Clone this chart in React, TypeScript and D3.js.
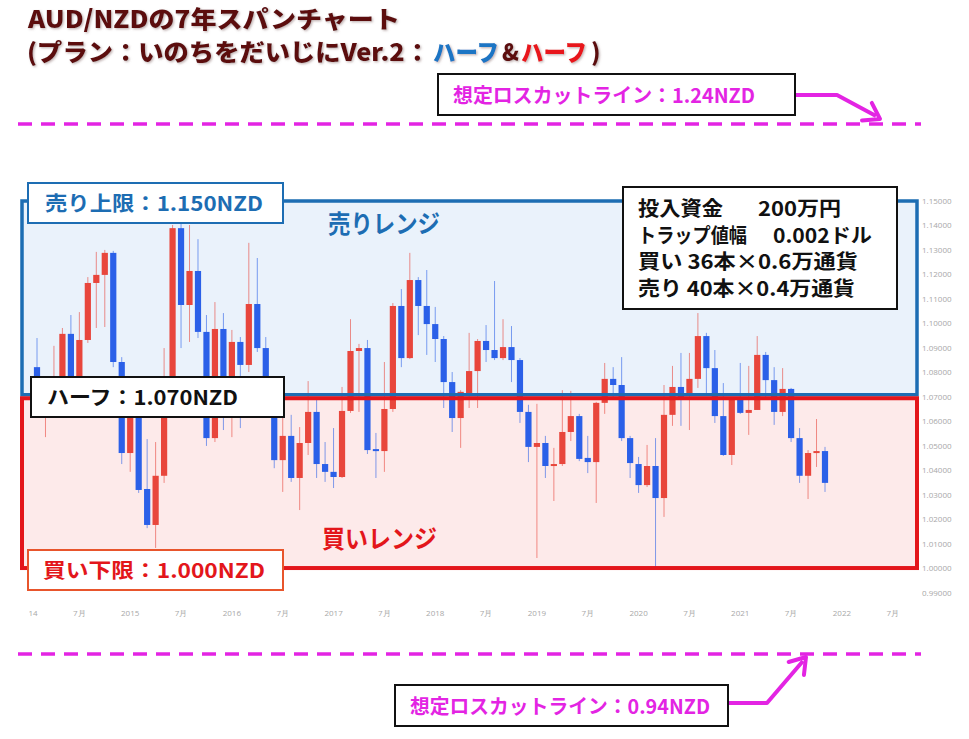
import React from 'react';
import * as d3 from 'd3';

const W = 969;
const H = 739;

// Monthly candles, Feb 2014 .. Nov 2021
const firstMonth = '2014-02';
const open = [
  1.0821, 1.0667, 1.0687, 1.0720, 1.0957, 1.0768, 1.0932, 1.1165, 1.1198, 1.1288,
  1.0842, 1.0470, 1.0667, 1.0323, 1.0176, 1.0377, 1.0687, 1.1389, 1.1075, 1.1214,
  1.0965, 1.0531, 1.0977, 1.0646, 1.0924, 1.0830, 1.1079, 1.0899, 1.0646, 1.0441,
  1.0540, 1.0368, 1.0511, 1.0638, 1.0425, 1.0393, 1.0372, 1.0642, 1.0887, 1.0899,
  1.0486, 1.0478, 1.0650, 1.1071, 1.0858, 1.1177, 1.1071, 1.0997, 1.0936, 1.0760,
  1.0613, 1.0715, 1.0805, 1.0928, 1.0891, 1.0858, 1.0903, 1.0850, 1.0638, 1.0495,
  1.0511, 1.0417, 1.0425, 1.0556, 1.0621, 1.0450, 1.0433, 1.0675, 1.0773, 1.0748,
  1.0531, 1.0425, 1.0339, 1.0417, 1.0286, 1.0626, 1.0740, 1.0715, 1.0773, 1.0948,
  1.0817, 1.0621, 1.0462, 1.0687, 1.0634, 1.0646, 1.0871, 1.0768, 1.0638, 1.0732,
  1.0531, 1.0377, 1.0470, 1.0478,
];
const high = [
  1.0940, 1.0760, 1.0908, 1.0981, 1.1034, 1.1046, 1.1189, 1.1292, 1.1300, 1.1296,
  1.0862, 1.0687, 1.0687, 1.0527, 1.0515, 1.0899, 1.1402, 1.1410, 1.1402, 1.1344,
  1.1034, 1.1087, 1.1042, 1.0973, 1.0944, 1.1329, 1.1267, 1.0944, 1.0687, 1.0654,
  1.0626, 1.0576, 1.0764, 1.0687, 1.0515, 1.0572, 1.0740, 1.1017, 1.0916, 1.0932,
  1.0552, 1.0842, 1.1083, 1.1140, 1.1288, 1.1189, 1.1218, 1.1067, 1.0948, 1.0801,
  1.0727, 1.0961, 1.0936, 1.0993, 1.1173, 1.1017, 1.0989, 1.0858, 1.0667, 1.0671,
  1.0540, 1.0491, 1.0727, 1.0724, 1.0630, 1.0540, 1.0679, 1.0838, 1.0821, 1.0862,
  1.0540, 1.0454, 1.0503, 1.0531, 1.0748, 1.0826, 1.0879, 1.0879, 1.1042, 1.0961,
  1.0891, 1.0756, 1.0699, 1.0838, 1.0826, 1.0948, 1.0883, 1.0821, 1.0817, 1.0736,
  1.0572, 1.0482, 1.0609, 1.0495,
];
const low = [
  1.0744, 1.0535, 1.0646, 1.0695, 1.0744, 1.0727, 1.0920, 1.0981, 1.0985, 1.0821,
  1.0425, 1.0393, 1.0307, 1.0163, 1.0082, 1.0348, 1.0667, 1.0899, 1.0924, 1.0940,
  1.0499, 1.0515, 1.0564, 1.0535, 1.0572, 1.0801, 1.0883, 1.0626, 1.0408, 1.0311,
  1.0352, 1.0237, 1.0462, 1.0368, 1.0352, 1.0327, 1.0368, 1.0634, 1.0638, 1.0466,
  1.0368, 1.0393, 1.0638, 1.0821, 1.0854, 1.0952, 1.0871, 1.0842, 1.0654, 1.0556,
  1.0491, 1.0654, 1.0654, 1.0842, 1.0850, 1.0850, 1.0760, 1.0593, 1.0433, 1.0041,
  1.0368, 1.0274, 1.0417, 1.0519, 1.0437, 1.0388, 1.0266, 1.0630, 1.0699, 1.0519,
  1.0368, 1.0307, 1.0331, 1.0004, 1.0209, 1.0581, 1.0581, 1.0564, 1.0736, 1.0707,
  1.0593, 1.0458, 1.0421, 1.0630, 1.0544, 1.0646, 1.0699, 1.0585, 1.0621, 1.0515,
  1.0348, 1.0282, 1.0413, 1.0311,
];
const close = [
  1.0760, 1.0727, 1.0748, 1.0957, 1.0768, 1.0932, 1.1165, 1.1198, 1.1288, 1.0842,
  1.0470, 1.0667, 1.0319, 1.0176, 1.0377, 1.0687, 1.1389, 1.1075, 1.1214, 1.0965,
  1.0531, 1.0977, 1.0654, 1.0924, 1.0830, 1.1079, 1.0899, 1.0646, 1.0441, 1.0540,
  1.0368, 1.0511, 1.0638, 1.0425, 1.0393, 1.0372, 1.0642, 1.0887, 1.0899, 1.0482,
  1.0478, 1.0650, 1.1071, 1.0858, 1.1177, 1.1071, 1.0997, 1.0936, 1.0760, 1.0613,
  1.0720, 1.0805, 1.0928, 1.0891, 1.0858, 1.0903, 1.0850, 1.0638, 1.0495, 1.0511,
  1.0417, 1.0425, 1.0556, 1.0621, 1.0446, 1.0433, 1.0675, 1.0773, 1.0748, 1.0531,
  1.0429, 1.0339, 1.0417, 1.0286, 1.0626, 1.0740, 1.0695, 1.0773, 1.0948, 1.0817,
  1.0621, 1.0462, 1.0687, 1.0634, 1.0646, 1.0871, 1.0768, 1.0638, 1.0732, 1.0531,
  1.0377, 1.0470, 1.0478, 1.0348,
];

const xTickMonths = [
  '2014-01', '2014-07', '2015-01', '2015-07', '2016-01', '2016-07', '2017-01', '2017-07', '2018-01',
  '2018-07', '2019-01', '2019-07', '2020-01', '2020-07', '2021-01', '2021-07', '2022-01', '2022-07',
];
const xTickLabels = [
  '2014', '7月', '2015', '7月', '2016', '7月', '2017', '7月', '2018',
  '7月', '2019', '7月', '2020', '7月', '2021', '7月', '2022', '7月',
];
const yTicks = [1.15, 1.14, 1.13, 1.12, 1.11, 1.10, 1.09, 1.08, 1.07, 1.06, 1.05, 1.04, 1.03, 1.02, 1.01, 1.0, 0.99];

const sellTop = 1.15;
const halfLevel = 1.07;
const buyBottom = 1.0;

const titleLine1 = 'AUD/NZDの7年スパンチャート';
const titleLine2Parts = ['(プラン：いのちをだいじにVer.2：', 'ハーフ', '&', 'ハーフ', ')'];

const infoLines = [
  ['投入資金', '200万円'],
  ['トラップ値幅', '0.002ドル'],
  ['買い 36本×0.6万通貨', ''],
  ['売り 40本×0.4万通貨', ''],
];
const infoWidths = [[85, 83], [109, 99], [220, 0], [217, 0]];

const JP = '"Noto Sans CJK JP", "Noto Sans", sans-serif';
const RED = '#e8463c';
const BLUE = '#2b60e8';
const MAGENTA = '#e324e3';
const SELL_BLUE = '#1d6db3';
const BUY_RED = '#e3161b';
const TITLE = '#5c0d10';

const monthIndex = (ym: string) => {
  const [a, b] = firstMonth.split('-').map(Number);
  const [y, m] = ym.split('-').map(Number);
  return (y - a) * 12 + (m - b);
};

function arrowHead(tip: [number, number], from: [number, number], len: number, half: number) {
  const dx = tip[0] - from[0];
  const dy = tip[1] - from[1];
  const L = Math.hypot(dx, dy);
  const ux = dx / L, uy = dy / L;
  const px = -uy, py = ux;
  const bx = tip[0] - ux * len, by = tip[1] - uy * len;
  return `M${bx + px * half},${by + py * half} L${tip[0]},${tip[1]} L${bx - px * half},${by - py * half}`;
}

export default function App() {
  const n = open.length;
  const x = d3.scaleLinear().domain([0, n - 1]).range([37, 825]);
  const y = d3.scaleLinear().domain([0.99, 1.15]).range([592.5, 201]);
  const fmt = d3.format('.5f');
  const bodyW = 6.2;

  const candles = d3.range(n).map((i) => ({ i, o: open[i], h: high[i], l: low[i], c: close[i] }));

  const yS = y(sellTop);
  const yH = y(halfLevel);
  const yB = y(buyBottom);

  const topArrowPts: [number, number][] = [[796, 95], [837, 95], [876, 116]];
  const botArrowPts: [number, number][] = [[729, 703], [767, 703], [803, 661]];

  // title line 2 segment layout: [x, width, colour]
  const seg: [number, number | null, string][] = [
    [27, 403, TITLE],
    [433, 66, '#1c75c4'],
    [502, 17, TITLE],
    [521, 66, '#e8161a'],
    [591, null, TITLE],
  ];

  return (
    <svg width={W} height={H} style={{ position: 'absolute', left: 0, top: 0, background: '#fff' }} fontFamily={JP}>
      <defs>
        <clipPath id="xclip">
          <rect x={29} y={595} width={900} height={30} />
        </clipPath>
        <filter id="tshadow" x="-5%" y="-20%" width="110%" height="150%">
          <feDropShadow dx={1.2} dy={1.2} stdDeviation={0.8} floodColor="#8a7070" floodOpacity={0.55} />
        </filter>
      </defs>
      <rect x={0} y={0} width={W} height={H} fill="#fff" />

      {/* Title */}
      <g fontWeight={900} fontSize={24} filter="url(#tshadow)">
        <text x={28} y={28} fill={TITLE} textLength={372} lengthAdjust="spacingAndGlyphs">{titleLine1}</text>
        {titleLine2Parts.map((t, k) => (
          <text
            key={k}
            x={seg[k][0]}
            y={61}
            fill={seg[k][2]}
            {...(seg[k][1] ? { textLength: seg[k][1] as number, lengthAdjust: 'spacingAndGlyphs' } : {})}
          >
            {t}
          </text>
        ))}
      </g>

      {/* range areas */}
      <rect x={22} y={yS} width={895} height={yH - 2 - yS} fill="#eaf2fb" />
      <rect x={22} y={yH + 1.5} width={895} height={yB - yH - 1.5} fill="#fdeaea" />

      {/* y axis labels */}
      <g fontFamily='"Open Sans", sans-serif' fontSize={8} fill="#a8a8a8">
        {yTicks.map((t) => (
          <text key={t} x={922} y={y(t) + 3}>{fmt(t)}</text>
        ))}
      </g>

      {/* x axis labels */}
      <g fontFamily='"Open Sans", sans-serif' fontSize={8} fill="#a8a8a8" textAnchor="middle" clipPath="url(#xclip)">
        {xTickMonths.map((m, k) => (
          <text key={m} x={x(monthIndex(m))} y={616}>{xTickLabels[k]}</text>
        ))}
      </g>

      {/* candles */}
      <g>
        {candles.map((d) => {
          const up = d.c >= d.o;
          const col = up ? RED : BLUE;
          const cx = x(d.i);
          const top = y(Math.max(d.o, d.c));
          const bot = y(Math.min(d.o, d.c));
          const h = Math.max(2, bot - top);
          return (
            <g key={d.i}>
              <line x1={cx} x2={cx} y1={y(d.h)} y2={y(d.l)} stroke={col} strokeOpacity={0.6} strokeWidth={1} />
              <rect x={cx - bodyW / 2} y={top} width={bodyW} height={h} fill={col} />
            </g>
          );
        })}
      </g>

      {/* range borders */}
      <rect x={22} y={yS} width={895} height={yH - 2 - yS} fill="none" stroke={SELL_BLUE} strokeWidth={3.5} />
      <rect x={22} y={yH + 1.5} width={895} height={yB - yH - 1.5} fill="none" stroke={BUY_RED} strokeWidth={4} />

      {/* range titles */}
      <text x={328} y={233} fontSize={25} fontWeight={700} fill={SELL_BLUE} textLength={112} lengthAdjust="spacingAndGlyphs">売りレンジ</text>
      <text x={322} y={548} fontSize={25} fontWeight={700} fill={BUY_RED} textLength={115} lengthAdjust="spacingAndGlyphs">買いレンジ</text>

      {/* level labels */}
      <rect x={28} y={183} width={255} height={40} fill="#fff" stroke={SELL_BLUE} strokeWidth={2} />
      <text x={45} y={211} fontSize={20} fontWeight={700} fill={SELL_BLUE} textLength={218} lengthAdjust="spacingAndGlyphs">売り上限：1.150NZD</text>

      <rect x={31} y={377} width={253} height={40} fill="#fff" stroke="#111" strokeWidth={2} />
      <text x={47} y={405} fontSize={20} fontWeight={700} fill="#111" textLength={191} lengthAdjust="spacingAndGlyphs">ハーフ：1.070NZD</text>

      <rect x={28} y={550} width={255} height={40} fill="#fff" stroke="#e8552c" strokeWidth={2} />
      <text x={43} y={578} fontSize={20} fontWeight={700} fill={BUY_RED} textLength={222} lengthAdjust="spacingAndGlyphs">買い下限：1.000NZD</text>

      {/* info box */}
      <rect x={623} y={187} width={274} height={122} fill="#fff" stroke="#111" strokeWidth={2} />
      <g fontSize={20} fontWeight={700} fill="#111">
        {infoLines.map((ln, k) => (
          <g key={k}>
            <text x={638} y={216 + k * 26.5} textLength={infoWidths[k][0]} lengthAdjust="spacingAndGlyphs">{ln[0]}</text>
            {ln[1] && (
              <text x={k === 0 ? 758 : 773} y={216 + k * 26.5} textLength={infoWidths[k][1]} lengthAdjust="spacingAndGlyphs">{ln[1]}</text>
            )}
          </g>
        ))}
      </g>

      {/* loss cut lines */}
      <line x1={18} x2={921} y1={124} y2={124} stroke={MAGENTA} strokeWidth={3.5} strokeDasharray="14 9" />
      <line x1={18} x2={921} y1={654} y2={654} stroke={MAGENTA} strokeWidth={3.5} strokeDasharray="14 9" />

      <rect x={438} y={74} width={357} height={41} fill="#fff" stroke="#111" strokeWidth={2} />
      <text x={453} y={103} fontSize={20} fontWeight={700} fill={MAGENTA} textLength={302} lengthAdjust="spacingAndGlyphs">想定ロスカットライン：1.24NZD</text>
      <path d={`M${topArrowPts.map((p) => p.join(',')).join(' L')}`} fill="none" stroke={MAGENTA} strokeWidth={4} strokeLinejoin="round" />
      <path d={arrowHead([880, 119], topArrowPts[1], 15, 10)} fill="none" stroke={MAGENTA} strokeWidth={4} strokeLinecap="round" strokeLinejoin="round" />

      <rect x={395} y={685} width={333} height={41} fill="#fff" stroke="#111" strokeWidth={2} />
      <text x={410} y={714} fontSize={20} fontWeight={700} fill={MAGENTA} textLength={300} lengthAdjust="spacingAndGlyphs">想定ロスカットライン：0.94NZD</text>
      <path d={`M${botArrowPts.map((p) => p.join(',')).join(' L')}`} fill="none" stroke={MAGENTA} strokeWidth={4} strokeLinejoin="round" />
      <path d={arrowHead([806, 657], botArrowPts[1], 15, 10)} fill="none" stroke={MAGENTA} strokeWidth={4} strokeLinecap="round" strokeLinejoin="round" />
    </svg>
  );
}
